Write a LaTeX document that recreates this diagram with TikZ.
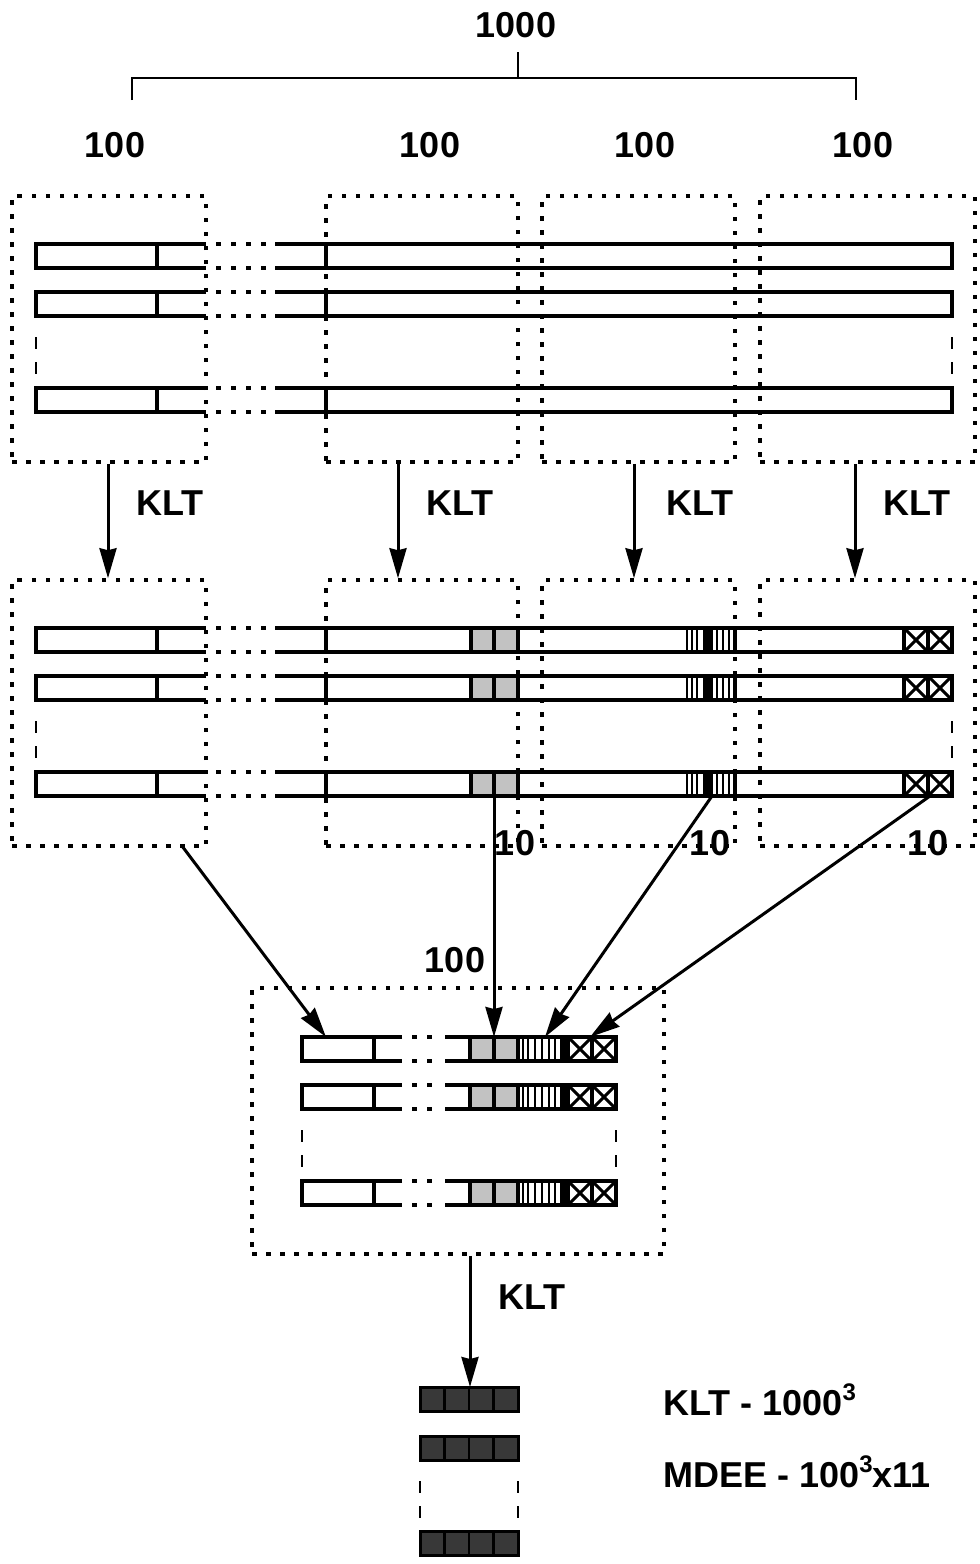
\documentclass[tikz,border=0pt]{standalone}
\usepackage{fontspec}
\setmainfont{Liberation Sans}
\usetikzlibrary{positioning, arrows.meta, calc}

\tikzset{
  dotbox/.style={draw, line width=3.5pt, dash pattern=on 4.5pt off 9.5pt, minimum width=#1, minimum height=266pt, inner sep=0pt},
  strip/.style={line width=3.6pt},
  gap/.style={line width=3.6pt, dash pattern=on 5pt off 10pt},
  rowdash/.style={line width=2pt, dash pattern=on 12pt off 13pt},
  klt/.style={line width=3pt, -{Stealth[length=30pt, width=17pt, inset=2pt]}},
  lbl/.style={font=\fontsize{36}{42}\selectfont\bfseries, inner sep=0pt},
  graycell/.style={fill=black!24},
  darkcell/.style={fill=black!78, draw=black, line width=3pt},
}
\newcommand{\supthree}{\raisebox{0.42em}{\fontsize{24}{28}\selectfont 3}}

% long row: white part, gap, long part
\newcommand{\wholerow}[1]{%
  \draw[strip] (206,#1) -- (36,#1) -- (36,#1+24) -- (206,#1+24);
  \draw[strip] (157,#1) -- (157,#1+24);
  \draw[gap] (216,#1) -- (270,#1) (216,#1+24) -- (270,#1+24);
  \draw[strip] (275,#1) -- (952,#1) -- (952,#1+24) -- (275,#1+24);
  \draw[strip] (326,#1) -- (326,#1+24);
}
\newcommand{\crosscell}[2]{%
  \draw[line width=3pt] (#1,#2) -- (#1+24,#2+24) (#1,#2+24) -- (#1+24,#2);
  \draw[strip] (#1,#2) -- (#1,#2+24);
}
% row after KLT
\newcommand{\midrow}[1]{%
  \fill[graycell] (471,#1) rectangle (518,#1+24);
  \fill (703,#1) rectangle (713,#1+24);
  \wholerow{#1}
  \draw[strip] (471,#1) -- (471,#1+24) (494,#1) -- (494,#1+24) (518,#1) -- (518,#1+24);
  \foreach \sx in {687,692,697,717,723,729} \draw[line width=2.4pt] (\sx,#1) -- (\sx,#1+24);
  \draw[strip] (735,#1) -- (735,#1+24);
  \crosscell{904}{#1}
  \crosscell{928}{#1}
}
% short row in the joint block
\newcommand{\shortrow}[1]{%
  \fill[graycell] (470,#1) rectangle (518,#1+24);
  \fill (560,#1) rectangle (568,#1+24);
  \draw[strip] (402,#1) -- (302,#1) -- (302,#1+24) -- (402,#1+24);
  \draw[strip] (374,#1) -- (374,#1+24);
  \draw[gap] (412,#1) -- (437,#1) (412,#1+24) -- (437,#1+24);
  \draw[strip] (445,#1) -- (616,#1) -- (616,#1+24) -- (445,#1+24);
  \draw[strip] (470,#1) -- (470,#1+24) (494,#1) -- (494,#1+24) (518,#1) -- (518,#1+24);
  \foreach \sx in {523,528,535,542,549,555} \draw[line width=2.4pt] (\sx,#1) -- (\sx,#1+24);
  \crosscell{568}{#1}
  \crosscell{592}{#1}
}
\newcommand{\darkrow}[1]{%
  \filldraw[darkcell] (420,#1) rectangle (518,#1+24);
  \foreach \sx in {444.5,469,493.5} \draw[line width=2.4pt] (\sx,#1) -- (\sx,#1+24);
}

\begin{document}
\begin{tikzpicture}[x=1pt, y=-1pt]
\useasboundingbox (0,0) rectangle (980,1564);

% total length
\node[lbl] (n1000) at (516,25) {1000};
\draw[line width=2.4pt] (132,100) -- (132,78) -- (856,78) -- (856,100) (518,52) -- (518,78);
\node[lbl] (hA) at (115,145) {100};
\node[lbl] (hB) at (430,145) {100};
\node[lbl] (hC) at (645,145) {100};
\node[lbl] (hD) at (863,145) {100};

% original vectors
\wholerow{244}
\wholerow{292}
\wholerow{388}
\draw[rowdash] (36,337) -- (36,375) (952,337) -- (952,375);
\node[dotbox=194pt] (tA) at (109,329) {};
\node[dotbox=192pt] (tB) at (422,329) {};
\node[dotbox=193pt] (tC) at (638.5,329) {};
\node[dotbox=215pt] (tD) at (867.5,329) {};

% transformed vectors
\midrow{628}
\midrow{676}
\midrow{772}
\draw[rowdash] (36,721) -- (36,759) (952,721) -- (952,759);
\node[dotbox=194pt] (mA) at (109,713) {};
\node[dotbox=192pt] (mB) at (422,713) {};
\node[dotbox=193pt] (mC) at (638.5,713) {};
\node[dotbox=215pt] (mD) at (867.5,713) {};

\coordinate (kA) at (108,0);
\coordinate (kB) at (398,0);
\coordinate (kC) at (634,0);
\coordinate (kD) at (855,0);
\draw[klt] (tA.south -| kA) -- (mA.north -| kA);
\draw[klt] (tB.south -| kB) -- (mB.north -| kB);
\draw[klt] (tC.south -| kC) -- (mC.north -| kC);
\draw[klt] (tD.south -| kD) -- (mD.north -| kD);
\node[lbl] (kltA) at (170,503) {KLT};
\node[lbl] (kltB) at (460,503) {KLT};
\node[lbl] (kltC) at (700,503) {KLT};
\node[lbl] (kltD) at (917,503) {KLT};

\node[lbl] (tenB) at (515,843) {10};
\node[lbl] (tenC) at (710,843) {10};
\node[lbl] (tenD) at (928,843) {10};

% joint block
\shortrow{1037}
\shortrow{1085}
\shortrow{1181}
\draw[rowdash] (302,1130) -- (302,1168) (616,1130) -- (616,1168);
\node[dotbox=412pt] (bot) at (458,1121) {};
\node[lbl] (hund) at (455,960) {100};

\coordinate (srcWhite) at (182,846);
\coordinate (srcGray) at (494,796);
\coordinate (srcStripe) at (712,796);
\coordinate (srcCross) at (930,796);
\coordinate (dstWhite) at (326,1037);
\coordinate (dstGray) at (494,1037);
\coordinate (dstStripe) at (545,1037);
\coordinate (dstCross) at (590,1037);
\draw[klt] (srcWhite) -- (dstWhite);
\draw[klt] (srcGray) -- (dstGray);
\draw[klt] (srcStripe) -- (dstStripe);
\draw[klt] (srcCross) -- (dstCross);

% final result
\darkrow{1387}
\darkrow{1436}
\darkrow{1531}
\draw[rowdash] (420,1481) -- (420,1519) (518,1481) -- (518,1519);
\coordinate (dkTop) at (470,1387);
\draw[klt] (bot.south -| dkTop) -- (dkTop);
\node[lbl] (kltE) at (532,1297) {KLT};

\node[lbl, anchor=west] (costK) at (663,1400) {KLT - 1000\supthree};
\node[lbl, anchor=west] (costM) at (663,1472) {MDEE - 100\supthree x11};
\end{tikzpicture}
\end{document}
